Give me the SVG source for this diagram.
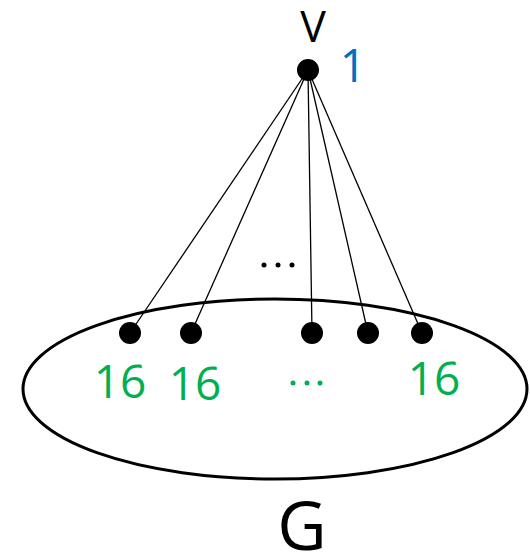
<svg xmlns="http://www.w3.org/2000/svg" width="530" height="555" viewBox="0 0 530 555">
<style>
.e{stroke:#000;stroke-width:1.3;fill:none}
.n{fill:#000}
.t{font-family:"Open Sans","Noto Sans","DejaVu Sans",sans-serif}
.g{fill:#00B050}
</style>
<rect width="530" height="555" fill="#fff"/>
<g id="G">
<ellipse cx="275" cy="389" rx="252" ry="90" fill="none" stroke="#000" stroke-width="3"/>
<text class="t" x="302" y="550" font-size="68" text-anchor="middle">G</text>
</g>
<g id="edges">
<line class="e" x1="308" y1="70" x2="130" y2="333"/>
<line class="e" x1="308" y1="70" x2="191" y2="333"/>
<line class="e" x1="308" y1="70" x2="312" y2="333"/>
<line class="e" x1="308" y1="70" x2="368" y2="333"/>
<line class="e" x1="308" y1="70" x2="422" y2="333"/>
</g>
<g id="v">
<circle class="n" cx="308" cy="70" r="11"/>
<text class="t" x="313" y="42" font-size="43" text-anchor="middle">V</text>
<text class="t" x="353" y="82" font-size="46" text-anchor="middle" fill="#0070C0">1</text>
</g>
<g id="dots-top">
<circle class="n" cx="264" cy="265" r="2.5"/>
<circle class="n" cx="278" cy="265" r="2.5"/>
<circle class="n" cx="292" cy="265" r="2.5"/>
</g>
<g id="u1"><circle class="n" cx="130" cy="333" r="11"/><text class="t g" x="120" y="398" font-size="46" text-anchor="middle">16</text></g>
<g id="u2"><circle class="n" cx="191" cy="333" r="11"/><text class="t g" x="195" y="400" font-size="46" text-anchor="middle">16</text></g>
<g id="u3"><circle class="n" cx="312" cy="333" r="11"/></g>
<g id="u4"><circle class="n" cx="368" cy="333" r="11"/></g>
<g id="u5"><circle class="n" cx="422" cy="333" r="11"/><text class="t g" x="434" y="395" font-size="46" text-anchor="middle">16</text></g>
<g id="dots-green">
<circle class="g" cx="293" cy="383" r="2.5"/>
<circle class="g" cx="307" cy="383" r="2.5"/>
<circle class="g" cx="320" cy="383" r="2.5"/>
</g>
</svg>
